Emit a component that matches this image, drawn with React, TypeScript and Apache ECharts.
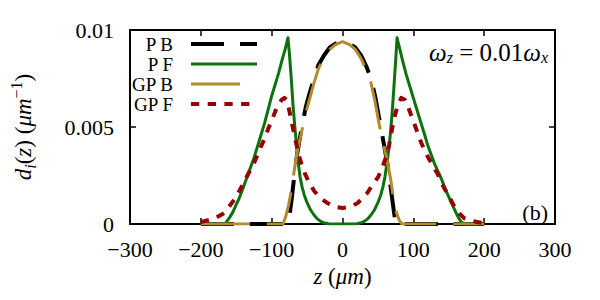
import React, { useEffect, useRef } from "react";
import * as echarts from "echarts";

// z positions (μm) and densities d_i(z) (μm^-1) for each curve
const pbZ = [-200, -150, -100, -78, -75, -72, -68, -64, -58, -52, -46, -40, -34, -26, -18, -10, 0, 10, 18, 26, 34, 40, 46, 52, 58, 64, 68, 72, 75, 100, 150, 200];
const pbV = [0, 0, 0, 0, 0.0004, 0.0012, 0.0025, 0.0036, 0.0049, 0.006, 0.0068, 0.0075, 0.0082, 0.0087, 0.0091, 0.0093, 0.0094, 0.0093, 0.0091, 0.0087, 0.0081, 0.0075, 0.0066, 0.0054, 0.0042, 0.003, 0.0019, 0.0008, 0, 0, 0, 0];

const pfZ = [-200, -180, -166, -160, -155, -150, -145, -140, -135, -130, -125, -120, -115, -110, -105, -100, -95, -90, -85, -81, -77, -75, -72.5, -70, -67.5, -65, -63, -60, -57, -54, -50, -45, -40, -35, -30, -25, -20, 0, 20, 25, 30, 35, 40, 45, 50, 54, 57, 60, 63, 65.5, 68, 70, 72.5, 75, 77, 81, 85, 90, 95, 100, 105, 110, 116, 120, 125, 130, 135, 140, 145, 150, 155, 160, 164, 168, 172, 200];
const pfV = [0, 0, 0, 0.0003, 0.0006, 0.001, 0.0014, 0.0019, 0.0024, 0.0029, 0.0034, 0.004, 0.0046, 0.0052, 0.0059, 0.0066, 0.0072, 0.0078, 0.0085, 0.009, 0.0096, 0.0088, 0.0076, 0.0062, 0.0051, 0.0041, 0.0033, 0.00245, 0.0019, 0.0015, 0.0011, 0.00072, 0.00045, 0.00025, 0.00012, 0.00005, 0.00001, 0, 0.00001, 0.00005, 0.00012, 0.00025, 0.00045, 0.00072, 0.0011, 0.0015, 0.0019, 0.00245, 0.0032, 0.0039, 0.0048, 0.0057, 0.007, 0.0084, 0.0096, 0.009, 0.0084, 0.0077, 0.0071, 0.0065, 0.0059, 0.0053, 0.0046, 0.0041, 0.0036, 0.0031, 0.0027, 0.0023, 0.0018, 0.0014, 0.001, 0.0006, 0.0003, 0.0001, 0, 0];

const gbZ = [-200, -150, -100, -84, -80, -76, -72, -68, -64, -58, -52, -46, -40, -34, -26, -18, -10, 0, 10, 18, 26, 34, 40, 46, 52, 58, 64, 68, 72, 76, 80, 84, 100, 150, 200];
const gbV = [0, 0, 0, 0, 0.0004, 0.001, 0.0018, 0.0028, 0.0037, 0.0047, 0.0057, 0.0065, 0.0073, 0.008, 0.0086, 0.009, 0.00925, 0.0094, 0.00925, 0.009, 0.00855, 0.0079, 0.0073, 0.0063, 0.0051, 0.0041, 0.0031, 0.0023, 0.0013, 0.0006, 0.0002, 0, 0, 0, 0];

const gfZ = [-200, -190, -180, -170, -166, -160, -150, -140, -130, -123, -115, -110, -105, -100, -95, -91, -86, -82, -79, -76, -72, -68, -65, -62, -58, -53, -48, -40, -31, -22, -15, -8, 0, 8, 15, 22, 28, 35, 42, 50, 56, 62, 66, 70, 74, 78, 83, 88, 92, 97, 102, 107, 111, 117, 123, 129, 134, 140, 146, 152, 158, 166, 172, 180, 190, 200];
const gfV = [0.0001, 0.0002, 0.0003, 0.0005, 0.0006, 0.0009, 0.0014, 0.0021, 0.0028, 0.0033, 0.004, 0.0044, 0.0049, 0.0053, 0.0058, 0.0061, 0.0064, 0.0065, 0.0064, 0.006, 0.0053, 0.0046, 0.0041, 0.0036, 0.0031, 0.0026, 0.0022, 0.0017, 0.00133, 0.0011, 0.00096, 0.00087, 0.00083, 0.00087, 0.00095, 0.0011, 0.00135, 0.0016, 0.002, 0.0024, 0.0029, 0.0035, 0.0041, 0.0049, 0.0056, 0.0061, 0.0065, 0.0064, 0.0061, 0.0056, 0.0051, 0.0046, 0.0042, 0.0037, 0.0033, 0.0029, 0.0026, 0.0021, 0.0017, 0.0013, 0.0009, 0.0005, 0.0003, 0.0002, 0.0001, 0.00005];

const seriesNames = ["P B", "P F", "GP B", "GP F"];
const xTicks = [-300, -200, -100, 0, 100, 200, 300];
const yTicks = [0, 0.005, 0.01];

const SERIF = "Liberation Serif, DejaVu Serif, serif";
const BLACK = "#000000";
const GREEN = "#0d720d";
const GOLD = "#b38a2c";
const RED = "#990000";

// dash patterns (px)
const DASH_PB = [33, 16];
const DASH_GB = [49, 17];
const DASH_GF = [8.3, 8.4];

const zip = (zs: number[], vs: number[]) => zs.map((z, i) => [z, vs[i]]);

export default function App() {
  const ref = useRef<HTMLDivElement>(null);

  useEffect(() => {
    if (!ref.current) return;
    const chart = echarts.init(ref.current, undefined, { renderer: "svg" });

    const tickLabel = (v: number) => {
      if (v < 0) return "\u2212" + Math.abs(v);
      return String(+v.toFixed(3));
    };

    const baseX = {
      type: "value",
      min: xTicks[0],
      max: xTicks[xTicks.length - 1],
      interval: 100,
      splitLine: { show: false },
      axisLine: { show: true, onZero: false, lineStyle: { color: BLACK, width: 2 } },
      axisTick: { show: true, inside: true, length: 6, lineStyle: { color: BLACK, width: 1.5 } },
    };
    const baseY = {
      type: "value",
      min: yTicks[0],
      max: yTicks[yTicks.length - 1],
      interval: 0.005,
      splitLine: { show: false },
      axisLine: { show: true, onZero: false, lineStyle: { color: BLACK, width: 2 } },
      axisTick: { show: true, inside: true, length: 6, lineStyle: { color: BLACK, width: 1.5 } },
    };

    const legendRows = [
      { name: seriesNames[0], y: 44, x2: 257, color: BLACK, width: 4, dash: DASH_PB },
      { name: seriesNames[1], y: 64, x2: 257, color: GREEN, width: 3, dash: null },
      { name: seriesNames[2], y: 84, x2: 257, color: GOLD, width: 3, dash: DASH_GB },
      { name: seriesNames[3], y: 104, x2: 257, color: RED, width: 4, dash: DASH_GF },
    ];

    const graphics: any[] = [];
    legendRows.forEach((r) => {
      graphics.push({
        type: "text",
        x: 173,
        y: r.y,
        style: {
          text: r.name,
          fill: BLACK,
          fontSize: 19,
          fontFamily: SERIF,
          align: "right",
          verticalAlign: "middle",
        },
      });
      graphics.push({
        type: "line",
        shape: { x1: 191, y1: r.y, x2: r.x2, y2: r.y },
        style: { stroke: r.color, lineWidth: r.width, lineDash: r.dash || undefined, lineCap: "butt" },
      });
    });
    graphics.push({
      type: "text",
      x: 548,
      y: 50,
      style: {
        text: "{it|ω}{sub|z}{rm| = 0.01}{it|ω}{sub|x}",
        fill: BLACK,
        align: "right",
        verticalAlign: "middle",
        fontFamily: SERIF,
        rich: {
          it: { fontSize: 25, fontStyle: "italic", fontFamily: SERIF, lineHeight: 30, verticalAlign: "bottom" },
          rm: { fontSize: 25, fontFamily: SERIF, lineHeight: 30, verticalAlign: "bottom" },
          sub: { fontSize: 16, fontStyle: "italic", fontFamily: SERIF, lineHeight: 22, verticalAlign: "bottom" },
        },
      },
    });
    graphics.push({
      type: "text",
      x: 548,
      y: 212,
      style: {
        text: "(b)",
        fill: BLACK,
        fontSize: 22,
        fontFamily: SERIF,
        align: "right",
        verticalAlign: "middle",
      },
    });

    const mkSeries = (name: string, data: number[][], color: string, width: number, dash: number[] | null) => ({
      name,
      type: "line",
      data,
      showSymbol: false,
      symbol: "none",
      clip: true,
      lineStyle: { color, width, type: dash || "solid", cap: "butt", join: "round" },
    });

    chart.setOption({
      animation: false,
      backgroundColor: "#ffffff",
      textStyle: { fontFamily: SERIF },
      grid: { left: 120, right: 45, top: 30, bottom: 76, containLabel: false },
      xAxis: [
        {
          ...baseX,
          position: "bottom",
          axisLabel: { formatter: tickLabel, color: BLACK, fontSize: 22, fontFamily: SERIF, margin: 14 },
          name: "{it|z}{rm| (}{it|μm}{rm|)}",
          nameLocation: "middle",
          nameGap: 40,
          nameTextStyle: {
            fontFamily: SERIF,
            rich: {
              it: { fontSize: 23, fontStyle: "italic", fontFamily: SERIF, color: BLACK },
              rm: { fontSize: 23, fontFamily: SERIF, color: BLACK },
            },
          },
        },
        { ...baseX, position: "top", axisLabel: { show: false } },
      ],
      yAxis: [
        {
          ...baseY,
          position: "left",
          axisLabel: { formatter: tickLabel, color: BLACK, fontSize: 22, fontFamily: SERIF, margin: 16 },
          name: "{it|d}{sub|i}{rm|(}{it|z}{rm|) (}{it|μm}{sup|−1}{rm|)}",
          nameLocation: "middle",
          nameGap: 92,
          nameRotate: 90,
          nameTextStyle: {
            fontFamily: SERIF,
            rich: {
              it: { fontSize: 23, fontStyle: "italic", fontFamily: SERIF, color: BLACK, lineHeight: 30, verticalAlign: "middle" },
              rm: { fontSize: 23, fontFamily: SERIF, color: BLACK, lineHeight: 30, verticalAlign: "middle" },
              sub: { fontSize: 16, fontStyle: "italic", fontFamily: SERIF, color: BLACK, lineHeight: 16, verticalAlign: "bottom", padding: [12, 0, 0, 0] },
              sup: { fontSize: 16, fontFamily: SERIF, color: BLACK, lineHeight: 16, verticalAlign: "top", padding: [0, 0, 10, 0] },
            },
          },
        },
        { ...baseY, position: "right", axisLabel: { show: false } },
      ],
      series: [
        mkSeries(seriesNames[0], zip(pbZ, pbV), BLACK, 4, DASH_PB),
        mkSeries(seriesNames[1], zip(pfZ, pfV), GREEN, 3, null),
        mkSeries(seriesNames[2], zip(gbZ, gbV), GOLD, 3, DASH_GB),
        mkSeries(seriesNames[3], zip(gfZ, gfV), RED, 4, DASH_GF),
      ],
      graphic: graphics,
    });

    return () => chart.dispose();
  }, []);

  return (
    <div
      ref={ref}
      style={{ position: "absolute", left: 0, top: 0, width: 600, height: 300, background: "#fff" }}
    />
  );
}
